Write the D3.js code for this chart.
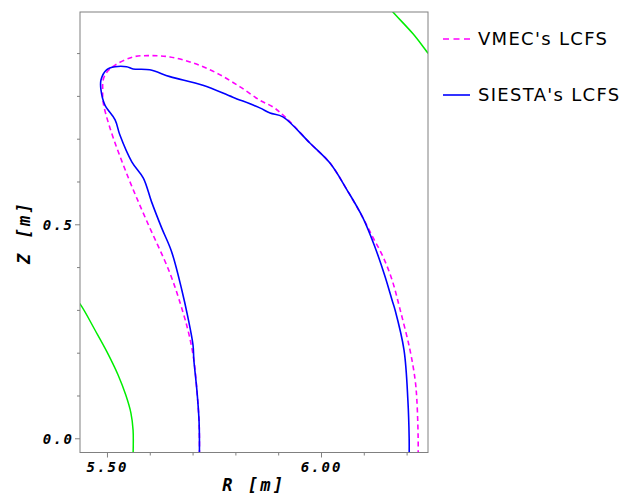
<!DOCTYPE html>
<html>
<head>
<meta charset="utf-8">
<script src="https://cdn.jsdelivr.net/npm/d3@7"></script>
<style>
  body { margin: 0; background: #fff; }
  svg { display: block; }
</style>
</head>
<body>
<svg id="chart" width="627" height="494"></svg>
<script>
// ---- Data (R [m], Z [m]) ----
const vmecR = [5.716,5.716,5.715,5.710,5.703,5.692,5.678,5.647,5.591,5.549,5.507,5.491,5.490,5.491,5.500,5.519,5.561,5.600,5.647,5.701,5.757,5.811,5.857,5.888,5.916,5.974,6.021,6.061,6.098,6.121,6.145,6.166,6.185,6.208,6.220,6.224,6.227,6.227];
const vmecZ = [-0.039,0.000,0.043,0.113,0.183,0.241,0.293,0.386,0.512,0.611,0.725,0.786,0.814,0.837,0.856,0.872,0.891,0.894,0.891,0.877,0.853,0.821,0.790,0.774,0.751,0.690,0.643,0.580,0.515,0.470,0.424,0.370,0.300,0.206,0.136,0.089,0.000,-0.039];

const siestaR = [5.716,5.716,5.715,5.710,5.703,5.701,5.689,5.675,5.651,5.628,5.604,5.585,5.558,5.530,5.519,5.495,5.486,5.486,5.499,5.519,5.546,5.561,5.600,5.647,5.724,5.794,5.857,5.881,5.911,5.974,6.021,6.061,6.098,6.126,6.150,6.166,6.173,6.194,6.203,6.206,6.206];
const siestaZ = [-0.039,0.000,0.043,0.113,0.183,0.218,0.283,0.346,0.436,0.491,0.553,0.608,0.646,0.709,0.744,0.779,0.814,0.837,0.861,0.868,0.868,0.863,0.861,0.845,0.825,0.797,0.772,0.760,0.751,0.690,0.643,0.580,0.515,0.447,0.377,0.323,0.300,0.206,0.089,0.000,-0.039];

const greenLowR = [5.425,5.439,5.472,5.500,5.526,5.544,5.556,5.561,5.561];
const greenLowZ = [0.328,0.311,0.253,0.202,0.148,0.101,0.059,0.019,-0.039];
const greenHighR = [6.161,6.168,6.215,6.250,6.259];
const greenHighZ = [1.005,0.996,0.945,0.900,0.889];

const xTicks = [5.5,5.6,5.7,5.8,5.9,6.0,6.1,6.2];
const xTickLabels = ["5.50","","","","","6.00","",""];
const yTicks = [0.0,0.1,0.2,0.3,0.4,0.5,0.6,0.7,0.8,0.9];
const yTickLabels = ["0.0","","","","","0.5","","","",""];
const legendLabels = ["VMEC's LCFS","SIESTA's LCFS"];

// ---- Layout ----
const L = 80, Rt = 428, T = 12, B = 452.5;
const x = d3.scaleLinear().domain([5.437, 6.250]).range([L, Rt]);
const y = d3.scaleLinear().domain([-0.0332, 0.996]).range([B, T]);

const svg = d3.select("#chart");

svg.append("defs").append("clipPath").attr("id","clip")
  .append("rect").attr("x",L).attr("y",T).attr("width",Rt-L).attr("height",B-T);

const zip = (a,b) => a.map((v,i)=>[v,b[i]]);
const line = d3.line().x(d=>x(d[0])).y(d=>y(d[1])).curve(d3.curveCatmullRom.alpha(0.5));

const g = svg.append("g").attr("clip-path","url(#clip)");
g.append("path").attr("d", line(zip(greenLowR,greenLowZ)))
  .attr("fill","none").attr("stroke","#00ee00").attr("stroke-width",1.5);
g.append("path").attr("d", line(zip(greenHighR,greenHighZ)))
  .attr("fill","none").attr("stroke","#00ee00").attr("stroke-width",1.5);
g.append("path").attr("d", line(zip(vmecR,vmecZ)))
  .attr("fill","none").attr("stroke","#ff00ff").attr("stroke-width",1.6)
  .attr("stroke-dasharray","5,3.5");
g.append("path").attr("d", line(zip(siestaR,siestaZ)))
  .attr("fill","none").attr("stroke","#0000ff").attr("stroke-width",1.6);

// frame
svg.append("rect").attr("x",L).attr("y",T).attr("width",Rt-L).attr("height",B-T)
  .attr("fill","none").attr("stroke","#808080").attr("stroke-width",1);

const tickFont = sel => sel
  .style("font-family","'DejaVu Sans Mono', 'Liberation Mono', monospace")
  .style("font-weight","bold").style("font-style","italic")
  .style("font-size","14px").style("letter-spacing","2px")
  .attr("fill","#000");

// x axis
const xAxis = d3.axisBottom(x).tickValues(xTicks)
  .tickSize(0).tickFormat((d,i)=>xTickLabels[i]);
const xa = svg.append("g").attr("transform",`translate(0,${B})`).call(xAxis);
xa.select(".domain").remove();
xa.selectAll(".tick line").attr("y2",(d,i)=> xTickLabels[i] ? 5 : 3).attr("stroke","#808080");
xa.selectAll(".tick text").attr("y",19.5).attr("dy",0).call(tickFont);

// y axis
const yAxis = d3.axisLeft(y).tickValues(yTicks)
  .tickSize(0).tickFormat((d,i)=>yTickLabels[i]);
const ya = svg.append("g").attr("transform",`translate(${L},0)`).call(yAxis);
ya.select(".domain").remove();
ya.selectAll(".tick line").attr("x2",(d,i)=> yTickLabels[i] ? -5 : -3).attr("stroke","#808080");
ya.selectAll(".tick text").attr("x",-6).attr("dy","0.35em").call(tickFont);

// axis titles
svg.append("text").attr("x",(L+Rt)/2).attr("y",491).attr("text-anchor","middle")
  .style("font-family","'DejaVu Sans Mono', 'Liberation Mono', monospace")
  .style("font-weight","bold").style("font-style","italic")
  .style("font-size","17px").style("letter-spacing","2.5px")
  .text("R [m]");
svg.append("text").attr("transform",`translate(30,${(T+B)/2}) rotate(-90)`)
  .attr("text-anchor","middle")
  .style("font-family","'DejaVu Sans Mono', 'Liberation Mono', monospace")
  .style("font-weight","bold").style("font-style","italic")
  .style("font-size","17px").style("letter-spacing","2.5px")
  .text("Z [m]");

// legend
const legY = [39, 95];
const leg = svg.append("g");
leg.append("line").attr("x1",443).attr("x2",471).attr("y1",legY[0]).attr("y2",legY[0])
  .attr("stroke","#ff00ff").attr("stroke-width",1.6).attr("stroke-dasharray","6,4.5");
leg.append("line").attr("x1",443).attr("x2",470).attr("y1",legY[1]).attr("y2",legY[1])
  .attr("stroke","#0000ff").attr("stroke-width",1.6);
legendLabels.forEach((t,i)=>{
  leg.append("text").attr("x",478).attr("y",legY[i]+6)
    .style("font-family","'DejaVu Sans', sans-serif")
    .style("font-size","18px").style("letter-spacing","1.3px")
    .attr("fill","#000").text(t);
});
</script>
</body>
</html>
